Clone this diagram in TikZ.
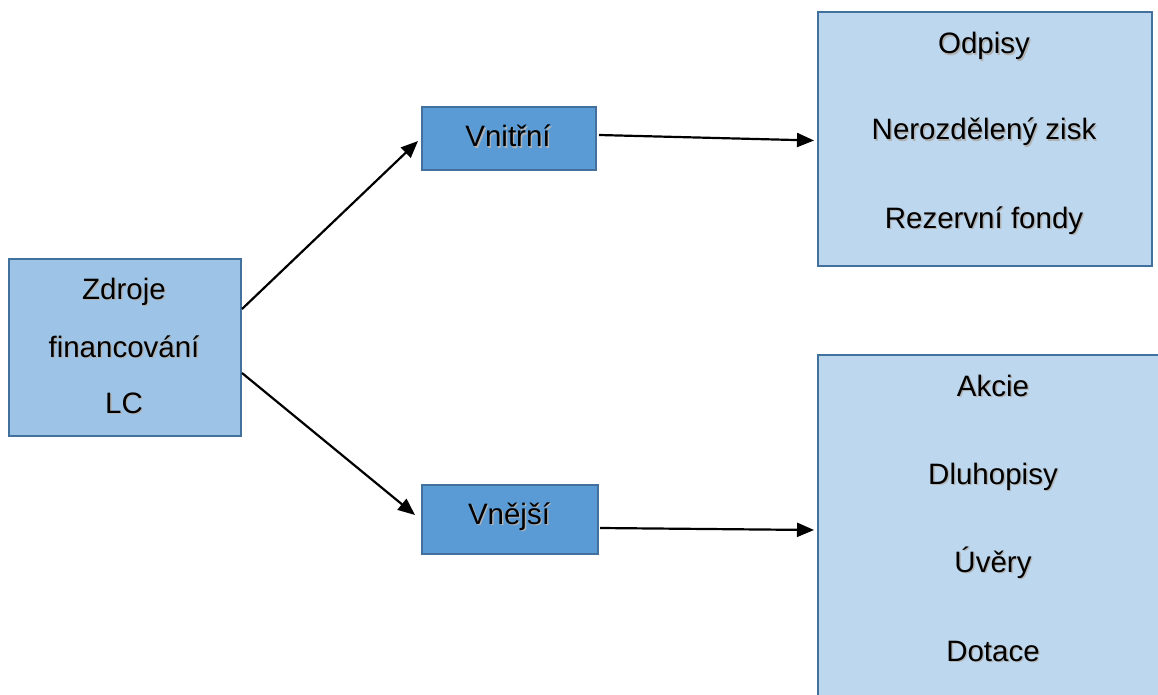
\documentclass[tikz,border=0pt]{standalone}
\usepackage{fontspec}
\setmainfont{Liberation Sans}
\usetikzlibrary{arrows.meta,calc}
\definecolor{edgeblue}{HTML}{41719C}
\definecolor{rootfill}{HTML}{9DC3E6}
\definecolor{midfill}{HTML}{5B9BD5}
\definecolor{leaffill}{HTML}{BDD7EE}
% text with a soft drop shadow
\newcommand{\txtshadow}[1]{\leavevmode\rlap{\kern1.4pt\raisebox{-1.4pt}{\textcolor{black!30}{#1}}}#1}
\begin{document}
\begin{tikzpicture}[x=1pt,y=-1pt,
  box/.style={draw=edgeblue,line width=2pt,rectangle,anchor=north west,inner sep=0pt},
  lbl/.style={anchor=base,inner sep=0pt,font=\fontsize{29.5}{35}\selectfont},
  arr/.style={draw=black,line width=2.2pt,-{Triangle[length=17pt,width=14pt]}}]
\useasboundingbox (0,0) rectangle (1158,695);
\clip (0,0) rectangle (1158,695);
\fill[white] (0,0) rectangle (1158,695);

% boxes
\node[box,fill=rootfill,minimum width=232pt,minimum height=177pt] (zdroje) at (8,258) {};
\node[box,fill=midfill,minimum width=174pt,minimum height=63pt] (vnitrni) at (421,106) {};
\node[box,fill=midfill,minimum width=176pt,minimum height=69pt] (vnejsi) at (421,484) {};
\node[box,fill=leaffill,minimum width=334pt,minimum height=254pt] (intern) at (817,11) {};
\node[box,fill=leaffill,minimum width=353pt,minimum height=360pt] (extern) at (817,354) {};

% labels
\node[lbl] (z1) at (124,299) {\txtshadow{Zdroje}};
\node[lbl] (z2) at (124,357) {\txtshadow{financování}};
\node[lbl] (z3) at (124,413) {\txtshadow{LC}};
\node[lbl] (v1) at (508,147) {\txtshadow{Vnitřní}};
\node[lbl] (v2) at (509,524) {\txtshadow{Vnější}};
\node[lbl] (i1) at (984,54) {\txtshadow{Odpisy}};
\node[lbl] (i2) at (984,140) {\txtshadow{Nerozdělený zisk}};
\node[lbl] (i3) at (984,228) {\txtshadow{Rezervní fondy}};
\node[lbl] (e1) at (993,396) {\txtshadow{Akcie}};
\node[lbl] (e2) at (993,484) {\txtshadow{Dluhopisy}};
\node[lbl] (e3) at (993,572) {\txtshadow{Úvěry}};
\node[lbl] (e4) at (993,661) {\txtshadow{Dotace}};

% connectors
\draw[arr] ($(zdroje.east)+(0,-38.5)$) -- ($(vnitrni.west)+(-3,2.5)$);
\draw[arr] ($(zdroje.east)+(0,25.5)$) -- ($(vnejsi.west)+(-6,-4.5)$);
\draw[arr] ($(vnitrni.east)+(2,-3.5)$) -- ($(intern.west)+(-3,1.5)$);
\draw[arr] ($(vnejsi.east)+(1,8.5)$) -- ($(extern.north west)+(-3,176)$);
\end{tikzpicture}
\end{document}
